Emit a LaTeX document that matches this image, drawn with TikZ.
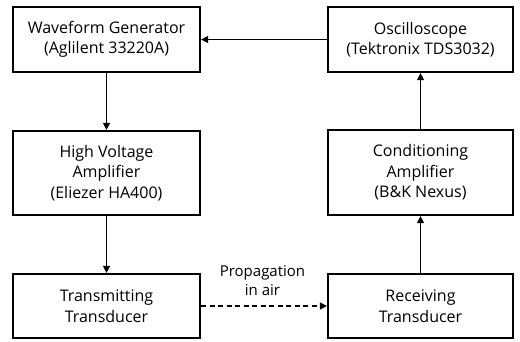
\documentclass[tikz,border=0pt]{standalone}
\usepackage{fontspec}
\setmainfont{Open Sans}
\usetikzlibrary{arrows.meta,positioning}
\usepackage{xcolor}

\begin{document}
\begin{tikzpicture}[
    x=1pt, y=1pt,
    blk/.style={draw, line width=2.2pt, minimum width=187pt, minimum height=65pt, inner sep=0pt, align=center, font=\fontsize{16}{20.5}\selectfont},
    sig/.style={-{Triangle[length=7pt, width=7pt]}, line width=1.3pt},
]
\useasboundingbox (0,0) rectangle (520,341);

\node[blk] (gen) at (106.5, 301.5) {Waveform Generator\\(Aglilent 33220A)};
\node[blk, minimum width=185pt] (osc) at (420.5, 301.5) {Oscilloscope\\(Tektronix TDS3032)};
\node[blk, minimum height=84pt] (hva) at (106.5, 168) {High Voltage\\Amplifier\\(Eliezer HA400)};
\node[blk, minimum width=185pt, minimum height=85pt] (cond) at (420.5, 168.5) {Conditioning\\Amplifier\\(B\&K Nexus)};
\node[blk, minimum height=64pt] (tx) at (106.5, 35) {Transmitting\\Transducer};
\node[blk, minimum width=185pt, minimum height=64pt] (rx) at (420.5, 35) {Receiving\\Transducer};
\node[align=center, inner sep=0pt, font=\fontsize{15}{19}\selectfont] (air) at (262.5, 60) {Propagation\\in air};

\draw[sig] (osc) -- (gen);
\draw[sig] (gen) -- (hva);
\draw[sig] (hva) -- (tx);
\draw[sig, dash pattern=on 5pt off 3.5pt] (tx) -- (rx);
\draw[sig] (rx) -- (cond);
\draw[sig] (cond) -- (osc);

\end{tikzpicture}
\end{document}
